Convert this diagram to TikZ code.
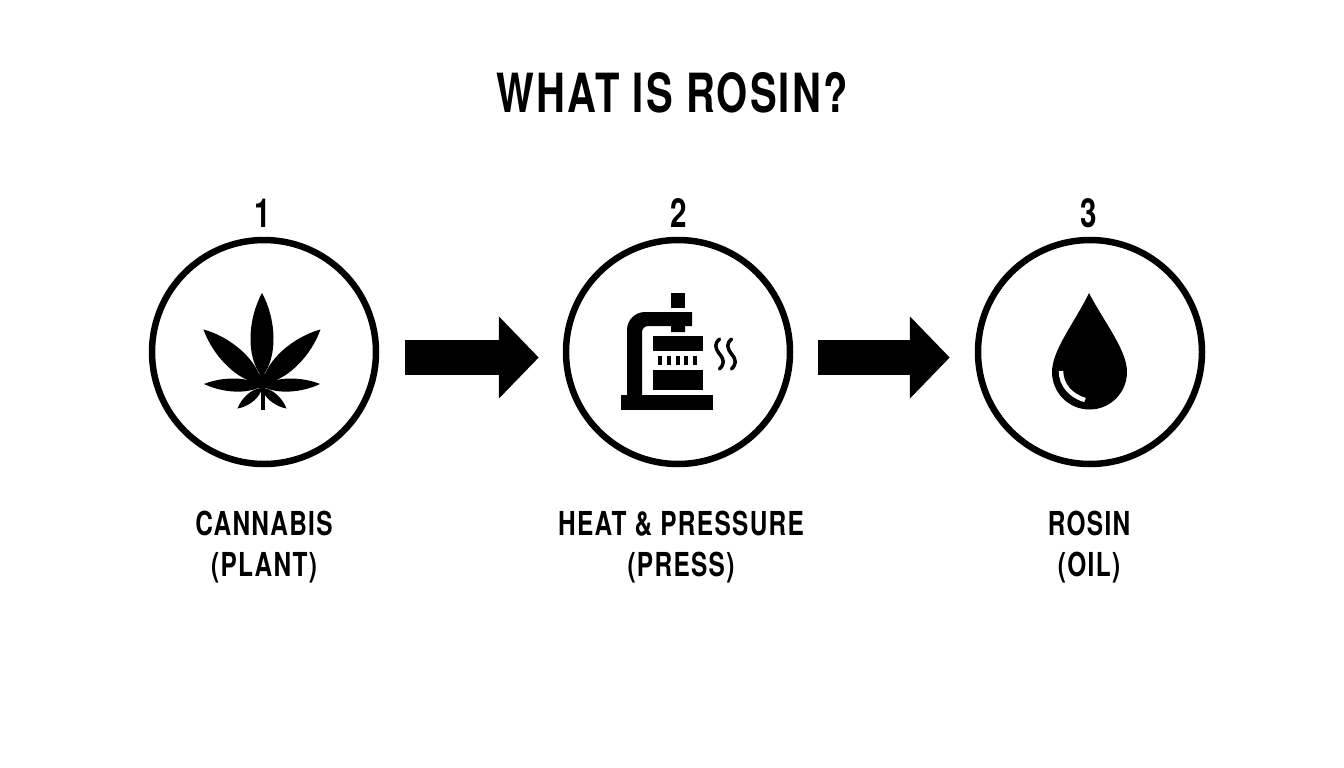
\documentclass[tikz,border=0pt]{standalone}
\usepackage{fontspec}
\usetikzlibrary{arrows.meta}
\newfontfamily\capsfont[FakeStretch=0.74,LetterSpace=4]{TeX Gyre Heros Bold}
\def\dropshape{(1089,293) .. controls (1104,322) and (1127,350) .. (1127,372) arc (0:180:37.5) .. controls (1052,350) and (1075,322) .. (1089,293) -- cycle}
\def\leafblade{(0,0) .. controls (.55,.25) and (.45,.7) .. (0,1) .. controls (-.45,.7) and (-.55,.25) .. (0,0) -- cycle}
\def\steamline{(0,0) .. controls (-5,5) and (-5,8) .. (0,15) .. controls (5,21) and (5,25) .. (0,30)}
\tikzset{ring/.style={draw=black, line width=6.5pt, circle, minimum size=224pt, inner sep=0pt},
	flow/.style={draw=black, line width=35pt, -{Triangle[length=40pt,width=80pt]}},
	numlabel/.style={font=\capsfont\fontsize{40}{40}\selectfont},
	steplabel/.style={font=\capsfont\fontsize{33}{41}\selectfont, align=center}}

\begin{document}
\begin{tikzpicture}[x=1pt,y=-1pt]
		\useasboundingbox[fill=white] (0,0) rectangle (1344,768);
		\node[font=\capsfont\fontsize{54}{54}\selectfont] (title) at (672,93) {WHAT IS ROSIN?};
		
		\node[ring] (plantring) at (264,352) {};
		\node[ring] (pressring) at (678,352) {};
		\node[ring] (oilring) at (1090,352) {};
		
		\node[numlabel] (one) at (263,213) {1};
		\node[numlabel] (two) at (679,213) {2};
		\node[numlabel] (three) at (1089,213) {3};
		
		\draw[flow,shorten <=26pt,shorten >=24pt] ([yshift=-5.5pt]plantring.east) -- ([yshift=-5.5pt]pressring.west);
		\draw[flow,shorten <=25pt,shorten >=25pt] ([yshift=-5.5pt]pressring.east) -- ([yshift=-5.5pt]oilring.west);
		
		% leaf
		\foreach \ang/\len/\wid/\basey in {0/84/23/377, 47/80/21/384, -47/80/21/384, 88/58/13/386, -88/58/13/386, 130/32/9/388, -130/32/9/388}
			\fill[shift={(262,\basey)},rotate=\ang,xscale=\wid/.75,yscale=-\len] \leafblade;
		\fill (262,381) circle (8);
		\fill (260.5,380) rectangle (264.5,410);
		
		% press
		\fill (671,293) rectangle (685,308);
		\fill (627,395) -- (627,330) arc (180:270:18) -- (692,312) -- (692,326) -- (685,326) -- (685,332) -- (671,332) -- (671,326) -- (648,326) arc (270:180:6) -- (642,395) -- cycle;
		\fill (653,336) rectangle (703,351);
		\foreach \tickx in {658,667,675.5,684,693}
			\fill (\tickx,356) rectangle ++(4,9);
		\fill (653,370) rectangle (703,390);
		\fill (621,395) rectangle (713,410);
		\foreach \steamx in {719.5,731.5}
			\draw[line width=3.5pt,line cap=round,shift={(\steamx,339)}] \steamline;
		
		% drop
		\fill \dropshape;
		\draw[white,line width=4.5pt] (1061,371) .. controls (1061,385) and (1071,396) .. (1085,400);
		
		\node[steplabel] (plantlabel) at (264,547) {CANNABIS\\(PLANT)};
		\node[steplabel] (presslabel) at (681,547) {HEAT \& PRESSURE\\(PRESS)};
		\node[steplabel] (oillabel) at (1089,547) {ROSIN\\(OIL)};
		\end{tikzpicture}
\end{document}
